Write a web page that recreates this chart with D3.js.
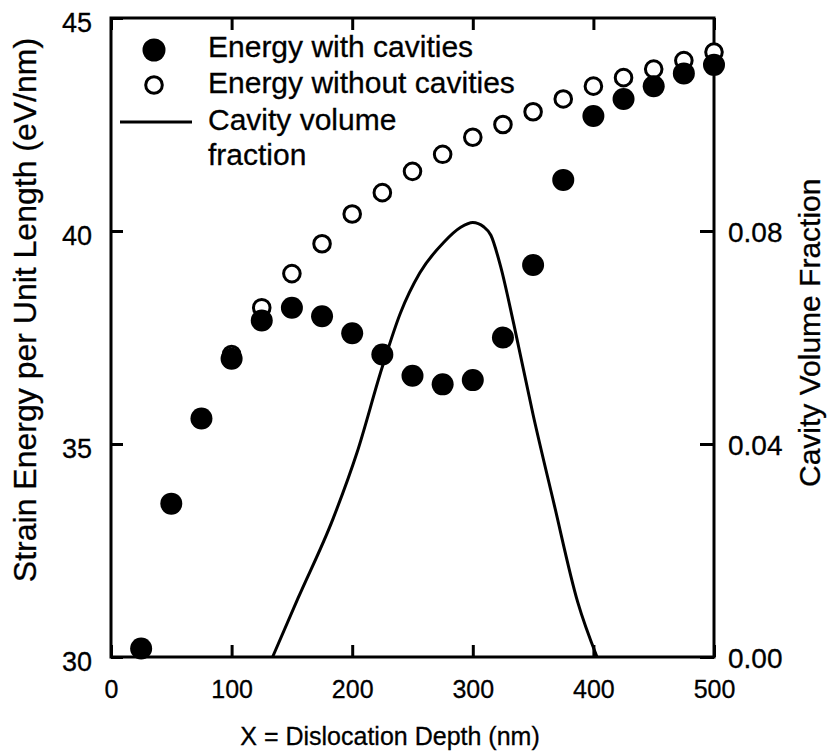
<!DOCTYPE html>
<html>
<head>
<meta charset="utf-8">
<script src="https://cdn.jsdelivr.net/npm/d3@7"></script>
<style>
  body { margin: 0; background: #fff; }
  svg { display: block; font-family: "Liberation Sans", Arial, sans-serif; }
  svg text { fill: #000; stroke: #000; stroke-width: 0.3px; }
</style>
</head>
<body>
<svg id="chart" width="830" height="755"></svg>
<script>
// depth (nm) of the dislocation for the energy points
const depth = [25, 50, 75, 100, 125, 150, 175, 200, 225, 250, 275, 300, 325, 350, 375, 400, 425, 450, 475, 500];
const energyWith = [30.2, 33.6, 35.6, 37.0, 37.9, 38.2, 38.0, 37.6, 37.1, 36.6, 36.4, 36.5, 37.5, 39.2, 41.2, 42.7, 43.1, 43.4, 43.7, 43.9];

const depthWithout = [100, 125, 150, 175, 200, 225, 250, 275, 300, 325, 350, 375, 400, 425, 450, 475, 500];
const energyWithout = [37.1, 38.2, 39.0, 39.7, 40.4, 40.9, 41.4, 41.8, 42.2, 42.5, 42.8, 43.1, 43.4, 43.6, 43.8, 44.0, 44.2];

// cavity volume fraction curve (right axis)
const fracDepth = [134, 155, 184, 204, 225, 240, 256, 276, 290, 300, 309, 315, 323, 334, 350, 367, 387, 403];
const fraction = [0, 0.0110, 0.0259, 0.0384, 0.0545, 0.0646, 0.0721, 0.0779, 0.0807, 0.0816, 0.0808, 0.0792, 0.0734, 0.0625, 0.0455, 0.0291, 0.0103, 0];

const xTicks = [0, 100, 200, 300, 400, 500];
const yLeftTicks = [30, 35, 40, 45];
const yRightTicks = [0, 0.04, 0.08];

const svg = d3.select("#chart");
const plotLeft = 111, plotRight = 714, plotTop = 18, plotBottom = 657;

let x = d3.scaleLinear().domain([0, 500]).range([plotLeft, plotRight]);
let yL = d3.scaleLinear().domain([30, 45]).range([plotBottom, plotTop]);
let yR = d3.scaleLinear().domain([0, 0.12]).range([plotBottom, plotTop]);

// axes, ticks pointing inward
let xAxis = svg.append("g")
    .attr("class", "axis")
    .attr("transform", "translate(0," + plotBottom + ")")
    .call(d3.axisBottom(x).tickValues(xTicks).tickSize(-12).tickPadding(23));
xAxis.selectAll("text").style("font-size", "25px");

svg.append("g")
    .attr("class", "axis")
    .attr("transform", "translate(0," + plotTop + ")")
    .call(d3.axisTop(x).tickValues(xTicks).tickSize(-12).tickFormat(""));

let leftAxis = svg.append("g")
    .attr("class", "axis")
    .attr("transform", "translate(" + plotLeft + ",0)")
    .call(d3.axisLeft(yL).tickValues(yLeftTicks).tickSize(-12).tickPadding(19));
leftAxis.selectAll("text").style("font-size", "27px").attr("dy", "0.5em");

let rightAxis = svg.append("g")
    .attr("class", "axis")
    .attr("transform", "translate(" + plotRight + ",0)")
    .call(d3.axisRight(yR).tickValues(yRightTicks).tickSize(-14).tickPadding(14)
        .tickFormat(d3.format(".2f")));
rightAxis.selectAll("text").style("font-size", "28px").attr("dy", "0.36em");

svg.selectAll(".axis .domain").remove();
svg.selectAll(".axis line").attr("stroke", "#000").attr("stroke-width", 3);

svg.append("rect")
    .attr("x", plotLeft)
    .attr("y", plotTop)
    .attr("width", plotRight - plotLeft)
    .attr("height", plotBottom - plotTop)
    .attr("fill", "none")
    .attr("stroke", "#000")
    .attr("stroke-width", 3);

// axis titles
svg.append("text")
    .attr("x", 390)
    .attr("y", 745)
    .attr("text-anchor", "middle")
    .style("font-size", "25px")
    .text("X = Dislocation Depth (nm)");

svg.append("text")
    .attr("transform", "translate(36,310) rotate(-90)")
    .attr("text-anchor", "middle")
    .style("font-size", "32px")
    .text("Strain Energy per Unit Length (eV/nm)");

svg.append("text")
    .attr("transform", "translate(820,487) rotate(-90)")
    .attr("text-anchor", "start")
    .style("font-size", "30px")
    .text("Cavity Volume Fraction");

// cavity volume fraction curve
let line = d3.line()
    .x(function(d, i) { return x(fracDepth[i]); })
    .y(function(d) { return yR(d); })
    .curve(d3.curveMonotoneX);

svg.append("path")
    .datum(fraction)
    .attr("d", line)
    .attr("fill", "none")
    .attr("stroke", "#000")
    .attr("stroke-width", 3);

// open circles first, filled on top
svg.selectAll(".open")
    .data(energyWithout)
    .enter().append("circle")
    .attr("class", "open")
    .attr("cx", function(d, i) { return x(depthWithout[i]); })
    .attr("cy", function(d) { return yL(d); })
    .attr("r", 8.3)
    .attr("fill", "#fff")
    .attr("stroke", "#000")
    .attr("stroke-width", 3);

svg.selectAll(".filled")
    .data(energyWith)
    .enter().append("circle")
    .attr("class", "filled")
    .attr("cx", function(d, i) { return x(depth[i]); })
    .attr("cy", function(d) { return yL(d); })
    .attr("r", 11)
    .attr("fill", "#000");

// legend
let legend = svg.append("g").style("font-size", "30px");
legend.append("circle").attr("cx", 154).attr("cy", 50).attr("r", 11.5).attr("fill", "#000");
legend.append("text").attr("x", 208).attr("y", 57).text("Energy with cavities");
legend.append("circle").attr("cx", 154).attr("cy", 85).attr("r", 8.3)
    .attr("fill", "#fff").attr("stroke", "#000").attr("stroke-width", 3);
legend.append("text").attr("x", 208).attr("y", 93).text("Energy without cavities");
legend.append("line").attr("x1", 120).attr("x2", 192).attr("y1", 122).attr("y2", 122)
    .attr("stroke", "#000").attr("stroke-width", 3);
legend.append("text").attr("x", 208).attr("y", 130).text("Cavity volume");
legend.append("text").attr("x", 208).attr("y", 165).text("fraction");
</script>
</body>
</html>
